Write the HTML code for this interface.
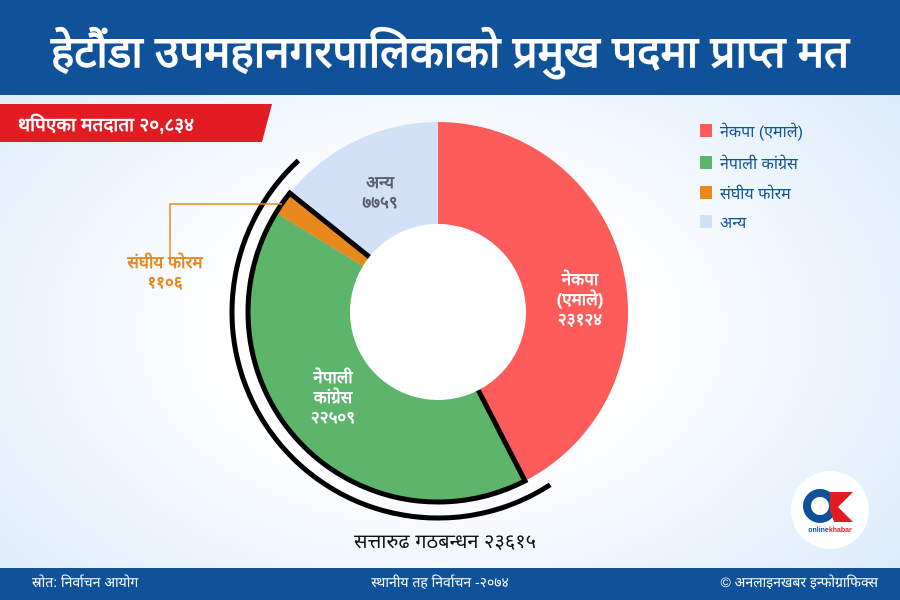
<!DOCTYPE html>
<html><head><meta charset="utf-8"><style>
html,body{margin:0;padding:0;width:900px;height:600px;overflow:hidden;font-family:"Liberation Sans","DejaVu Sans",sans-serif}
</style></head><body>
<svg width="900" height="600" xmlns="http://www.w3.org/2000/svg">
<defs>
<radialGradient id="bg" cx="0.48" cy="0.55" r="0.65">
<stop offset="0.35" stop-color="#ffffff"/><stop offset="1" stop-color="#dcecfb"/>
</radialGradient>
</defs>
<rect width="900" height="600" fill="url(#bg)"/>
<rect x="0" y="0" width="900" height="95" fill="#10529a"/>
<text x="450" y="67" fill="#fff" font-size="44" font-weight="bold" text-anchor="middle">हेटौंडा उपमहानगरपालिकाको प्रमुख पदमा प्राप्त मत</text>
<polygon points="0,104 272,104 262,142 0,142" fill="#e31b23"/>
<text x="18" y="131" fill="#fff" font-size="19" font-weight="bold">थपिएका मतदाता २०,८३४</text>
<g id="chart"></g>
<polyline points="170,259 170,204 282,204" fill="none" stroke="#e8891d" stroke-width="1.5"/>
<text x="165" y="268" fill="#e8891d" font-size="17" font-weight="bold" text-anchor="middle">संघीय फोरम</text>
<text x="165" y="288" fill="#e8891d" font-size="17" font-weight="bold" text-anchor="middle">११०६</text>
<text x="380" y="188" fill="#5a6070" font-size="17" font-weight="bold" text-anchor="middle">अन्य</text>
<text x="380" y="208" fill="#5a6070" font-size="17" font-weight="bold" text-anchor="middle">७७५९</text>
<text x="580" y="285" fill="#fff" font-size="17" font-weight="bold" text-anchor="middle">नेकपा</text>
<text x="580" y="305" fill="#fff" font-size="17" font-weight="bold" text-anchor="middle">(एमाले)</text>
<text x="580" y="325" fill="#fff" font-size="17" font-weight="bold" text-anchor="middle">२३१२४</text>
<text x="333" y="383" fill="#fff" font-size="17" font-weight="bold" text-anchor="middle">नेपाली</text>
<text x="333" y="403" fill="#fff" font-size="17" font-weight="bold" text-anchor="middle">कांग्रेस</text>
<text x="333" y="423" fill="#fff" font-size="17" font-weight="bold" text-anchor="middle">२२५०९</text>
<text x="445" y="548" fill="#111" font-size="20" text-anchor="middle">सत्तारुढ गठबन्धन २३६१५</text>
<g>
<rect x="700" y="124" width="12" height="13" fill="#fe5b5b"/>
<text x="720" y="137" fill="#10529a" font-size="16">नेकपा (एमाले)</text>
<rect x="700" y="156" width="12" height="13" fill="#5cb56b"/>
<text x="720" y="169" fill="#10529a" font-size="16">नेपाली कांग्रेस</text>
<rect x="700" y="186" width="12" height="13" fill="#e8891d"/>
<text x="720" y="199" fill="#10529a" font-size="16">संघीय फोरम</text>
<rect x="700" y="215" width="12" height="13" fill="#d3e1f7"/>
<text x="720" y="228" fill="#10529a" font-size="16">अन्य</text>
</g>
<g>
<circle cx="830" cy="510" r="39" fill="#fff"/>
<circle cx="820" cy="506" r="13" fill="none" stroke="#10529a" stroke-width="8"/>
<polygon points="830,492 853,492 838,507 853,522 834,522 830,510" fill="#e31b23"/>
<text x="830" y="532" fill="#10529a" font-size="7" font-weight="bold" text-anchor="middle">online<tspan fill="#e31b23">khabar</tspan></text>
</g>
<rect x="0" y="568" width="900" height="32" fill="#10529a"/>
<text x="32" y="587" fill="#fff" font-size="14">स्रोत: निर्वाचन आयोग</text>
<text x="440" y="587" fill="#fff" font-size="14" text-anchor="middle">स्थानीय तह निर्वाचन -२०७४</text>
<text x="878" y="587" fill="#fff" font-size="14" text-anchor="end">© अनलाइनखबर इन्फोग्राफिक्स</text>
</svg>
<script>
const categories = ["uml", "nc", "forum", "other"];
const values = [23124, 22509, 1106, 7759];
const colors = ["#fe5b5b", "#5cb56b", "#e8891d", "#d3e1f7"];
const NS = "http://www.w3.org/2000/svg";
const cx = 438, cy = 312, R = 190, r = 88;
const total = values.reduce((a, b) => a + b, 0);
function ang(v) { return v / total * 2 * Math.PI; }
function pt(a, rad) { return [cx + rad * Math.sin(a), cy - rad * Math.cos(a)]; }
function arcPath(a0, a1, ro, ri) {
  const large = (a1 - a0) > Math.PI ? 1 : 0;
  const p0 = pt(a0, ro), p1 = pt(a1, ro), p2 = pt(a1, ri), p3 = pt(a0, ri);
  return `M${p0}A${ro},${ro} 0 ${large} 1 ${p1}L${p2}A${ri},${ri} 0 ${large} 0 ${p3}Z`;
}
function arcLine(a0, a1, rad) {
  const large = (a1 - a0) > Math.PI ? 1 : 0;
  return `M${pt(a0, rad)}A${rad},${rad} 0 ${large} 1 ${pt(a1, rad)}`;
}
const g = document.getElementById("chart");
let acc = 0;
const bounds = [];
values.forEach((v, i) => {
  const a0 = ang(acc), a1 = ang(acc + v);
  bounds.push([a0, a1]);
  const p = document.createElementNS(NS, "path");
  p.setAttribute("d", arcPath(a0, a1, R, r));
  p.setAttribute("fill", colors[i]);
  
  
  g.appendChild(p);
  acc += v;
});
const s = bounds[1][0], e = bounds[2][1];
const outline = document.createElementNS(NS, "path");
outline.setAttribute("d", `M${pt(s, r)}L${pt(s, R)}` + arcLine(s, e, R).replace("M", "L") + `L${pt(e, r)}`);
outline.setAttribute("fill", "none");
outline.setAttribute("stroke", "#000");
outline.setAttribute("stroke-width", "5");


g.appendChild(outline);
const outer = document.createElementNS(NS, "path");
outer.setAttribute("d", arcLine(s - 0.1, e + 0.15, R + 16));
outer.setAttribute("fill", "none");
outer.setAttribute("stroke", "#000");
outer.setAttribute("stroke-width", "5");


g.appendChild(outer);
</script>
</body></html>
